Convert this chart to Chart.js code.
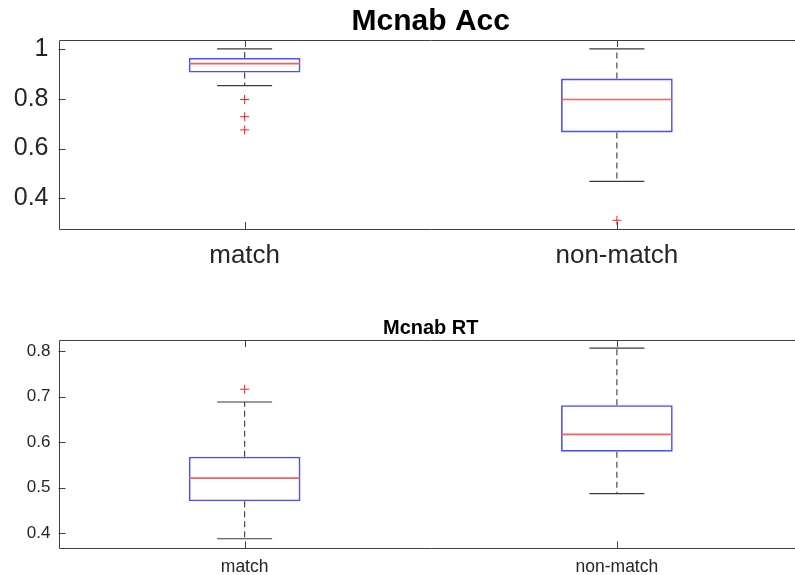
<!DOCTYPE html>
<html>
<head>
<meta charset="utf-8">
<script src="https://cdn.jsdelivr.net/npm/chart.js@4/dist/chart.umd.min.js"></script>
<style>
  html, body { margin: 0; padding: 0; background: #fff; overflow: hidden; }
  canvas { position: absolute; left: 0; }
  #accChart { top: 0; }
  #rtChart { top: 290px; }
</style>
</head>
<body>
<canvas id="accChart" width="803" height="290"></canvas>
<canvas id="rtChart" width="803" height="285"></canvas>
<script>
// categories shared by both panels
const categories = ['match', 'non-match'];

// Mcnab Acc box stats
const accQ1 = [0.905, 0.665];
const accMedian = [0.941, 0.797];
const accQ3 = [0.964, 0.881];
const accLow = [0.853, 0.468];
const accHigh = [1.0, 1.0];
const accOutliers = [[0.797, 0.728, 0.675], [0.312]];
const accTicks = [0.4, 0.6, 0.8, 1];
const accTickLabels = ['0.4', '0.6', '0.8', '1'];
const accRange = [0.277, 1.036];

// Mcnab RT box stats
const rtQ1 = [0.470, 0.579];
const rtMedian = [0.521, 0.617];
const rtQ3 = [0.568, 0.681];
const rtLow = [0.388, 0.487];
const rtHigh = [0.688, 0.806];
const rtOutliers = [[0.716], []];
const rtTicks = [0.4, 0.5, 0.6, 0.7, 0.8];
const rtTickLabels = ['0.4', '0.5', '0.6', '0.7', '0.8'];
const rtRange = [0.367, 0.824];

const FONT = "'Liberation Sans', Arial, sans-serif";
const TEXT = '#262626';

// matlab style frame with inward ticks
const frame = {
    id: 'frame',
    afterDraw(chart) {
        const ctx = chart.ctx;
        const a = chart.chartArea;
        const t = 7;
        ctx.save();
        ctx.strokeStyle = '#404040';
        ctx.lineWidth = 1;
        ctx.beginPath();
        ctx.rect(Math.round(a.left) + 0.5, Math.round(a.top) + 0.5, Math.round(a.right - a.left), Math.round(a.bottom - a.top));
        chart.scales.x.ticks.forEach((tk, i) => {
            const px = Math.round(chart.scales.x.getPixelForTick(i)) + 0.5;
            ctx.moveTo(px, a.bottom); ctx.lineTo(px, a.bottom - t);
            ctx.moveTo(px, a.top); ctx.lineTo(px, a.top + t);
        });
        chart.scales.y.ticks.forEach(tk => {
            const py = Math.round(chart.scales.y.getPixelForValue(tk.value)) + 0.5;
            ctx.moveTo(a.left, py); ctx.lineTo(a.left + t, py);
            ctx.moveTo(a.right, py); ctx.lineTo(a.right - t, py);
        });
        ctx.stroke();
        ctx.restore();
    }
};

function boxChart(id, s) {
    const datasets = [];
    // medians on top
    datasets.push({
        type: 'line', showLine: false,
        data: categories.map((c, i) => ({x: c, y: s.median[i]})),
        pointStyle: 'line', pointRadius: 55.5, pointBorderColor: '#ff5c5c', pointBorderWidth: 1.6
    });
    // caps
    datasets.push({
        type: 'line', showLine: false,
        data: categories.flatMap((c, i) => [{x: c, y: s.low[i]}, {x: c, y: s.high[i]}]),
        pointStyle: 'line', pointRadius: 27.5, pointBorderColor: '#3a3a3a', pointBorderWidth: 1.2
    });
    // outliers
    datasets.push({
        type: 'line', showLine: false,
        data: categories.flatMap((c, i) => s.outliers[i].map(v => ({x: c, y: v}))),
        pointStyle: 'cross', pointRadius: 4.5, pointBorderColor: '#ff2020', pointBorderWidth: 1
    });
    // whiskers
    categories.forEach((c, i) => {
        [[s.q3[i], s.high[i]], [s.q1[i], s.low[i]]].forEach(seg => {
            datasets.push({
                type: 'line',
                data: [{x: c, y: seg[0]}, {x: c, y: seg[1]}],
                borderColor: '#4a4a4a', borderWidth: 1.2, borderDash: [6, 4], pointRadius: 0
            });
        });
    });
    // boxes
    datasets.push({
        type: 'bar',
        data: categories.map((c, i) => [s.q1[i], s.q3[i]]),
        backgroundColor: 'rgba(0,0,0,0)',
        borderColor: '#4d4dff', borderWidth: 1.6, borderSkipped: false,
        categoryPercentage: 1, barPercentage: 0.30
    });

    return new Chart(document.getElementById(id), {
        type: 'bar',
        data: { labels: categories, datasets: datasets },
        plugins: [frame],
        options: {
            responsive: false,
            animation: false,
            layout: { padding: 0, autoPadding: false },
            plugins: {
                legend: { display: false },
                tooltip: { enabled: false },
                title: {
                    display: true, text: s.title, color: '#000', fullSize: false,
                    font: { family: FONT, size: s.titleSize, weight: 'bold' },
                    padding: s.titlePad
                }
            },
            scales: {
                x: {
                    type: 'category', offset: true,
                    grid: { display: false, drawTicks: false },
                    border: { display: false },
                    ticks: { color: TEXT, font: { family: FONT, size: s.xSize }, padding: s.xPad },
                    afterFit: sc => { sc.height = s.xHeight; }
                },
                y: {
                    min: s.range[0], max: s.range[1],
                    grid: { display: false, drawTicks: false },
                    border: { display: false },
                    afterBuildTicks: sc => { sc.ticks = s.ticks.map(v => ({value: v})); },
                    ticks: {
                        color: TEXT, font: { family: FONT, size: s.ySize }, padding: s.yPad,
                        callback: (v) => s.tickLabels[s.ticks.indexOf(v)]
                    },
                    afterFit: sc => { sc.width = 58.5; }
                }
            }
        }
    });
}

boxChart('accChart', {
    title: 'Mcnab Acc', titleSize: 30, titlePad: {top: 4, bottom: 0},
    q1: accQ1, median: accMedian, q3: accQ3, low: accLow, high: accHigh, outliers: accOutliers,
    ticks: accTicks, tickLabels: accTickLabels, range: accRange,
    xSize: 26, xPad: 11, xHeight: 61, ySize: 25, yPad: 10
});

boxChart('rtChart', {
    title: 'Mcnab RT', titleSize: 20, titlePad: {top: 26, bottom: 0},
    q1: rtQ1, median: rtMedian, q3: rtQ3, low: rtLow, high: rtHigh, outliers: rtOutliers,
    ticks: rtTicks, tickLabels: rtTickLabels, range: rtRange,
    xSize: 17.5, xPad: 8, xHeight: 26.7, ySize: 17, yPad: 8
});
</script>
</body>
</html>
